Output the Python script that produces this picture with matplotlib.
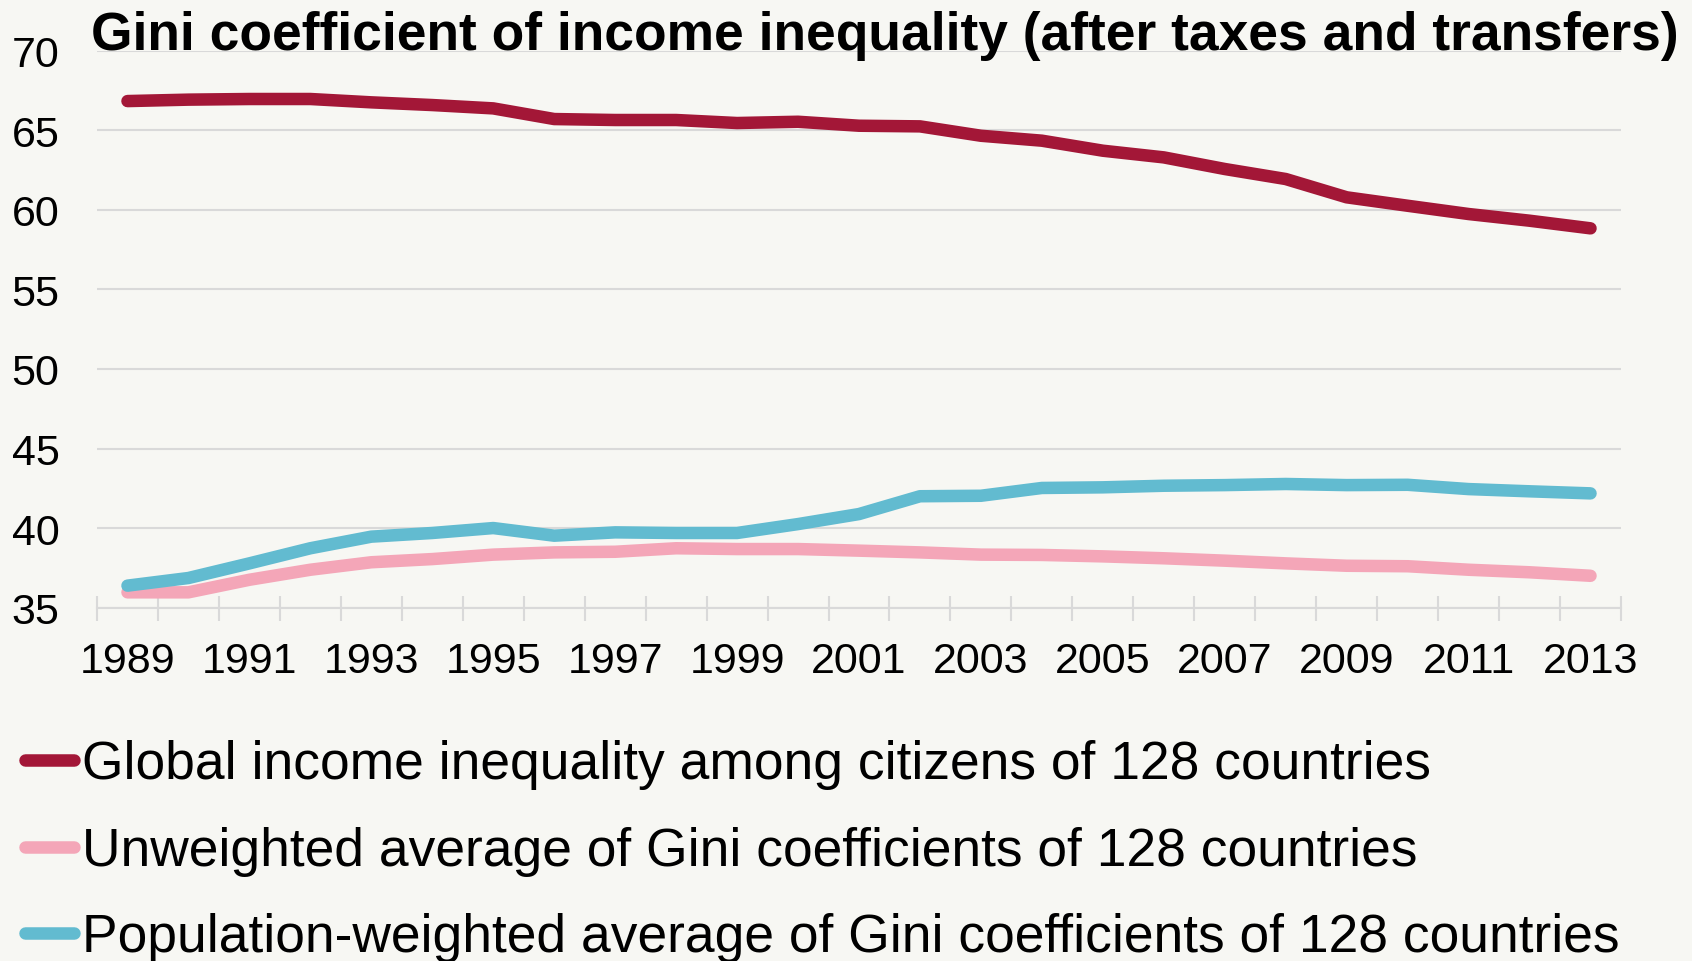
import numpy as np
import matplotlib
matplotlib.use("Agg")
import matplotlib.pyplot as plt
from matplotlib.lines import Line2D

plt.rcParams['font.family'] = ['Liberation Sans', 'DejaVu Sans']

# ---- data ----
years = list(range(1989, 2014))
global_gini = [66.84, 66.93, 66.97, 66.97, 66.76, 66.59, 66.38, 65.71, 65.65, 65.65, 65.46,
               65.54, 65.29, 65.25, 64.66, 64.35, 63.72, 63.3, 62.57, 61.94, 60.79, 60.26,
               59.74, 59.32, 58.84]
unweighted_gini = [35.96, 35.96, 36.75, 37.38, 37.85, 38.05, 38.33, 38.47, 38.51, 38.73, 38.68,
                   38.68, 38.58, 38.47, 38.33, 38.31, 38.22, 38.1, 37.95, 37.78, 37.63, 37.6,
                   37.38, 37.22, 37.0]
weighted_gini = [36.38, 36.86, 37.78, 38.73, 39.46, 39.69, 40.0, 39.52, 39.73, 39.69, 39.69,
                 40.25, 40.88, 42.0, 42.03, 42.52, 42.56, 42.66, 42.7, 42.77, 42.7, 42.72,
                 42.45, 42.31, 42.18]
series_labels = ["Global income inequality among citizens of 128 countries",
                 "Unweighted average of Gini coefficients of 128 countries",
                 "Population-weighted average of Gini coefficients of 128 countries"]
title = "Gini coefficient of income inequality (after taxes and transfers)"

colors = ["#A31737", "#F4A6B8", "#62BBD0"]
bg = "#F7F7F3"
grid_c = "#D9D9D9"

W, H = 1692, 962
fig = plt.figure(figsize=(W / 100, H / 100), dpi=100, facecolor=bg)
ax = fig.add_axes([97 / W, 1 - 608.6 / H, (1621 - 97) / W, (608.6 - 51.8) / H])
ax.set_facecolor(bg)

n = len(years)
xpos = np.arange(n) + 0.5
for vals, col in zip([global_gini, unweighted_gini, weighted_gini], colors):
    ax.plot(xpos, vals, color=col, lw=9, solid_capstyle='round',
            solid_joinstyle='round', zorder=3)

ax.set_xlim(0, n)
ax.set_ylim(35, 70)
ax.set_yticks(np.arange(35, 71, 5))
ax.yaxis.grid(True, color=grid_c, lw=1.5)
ax.set_axisbelow(True)
ax.tick_params(axis='y', length=0, pad=27, labelsize=31, colors='black')

ax.set_xticks(xpos[::2])
ax.set_xticklabels([str(y) for y in years[::2]])
ax.tick_params(axis='x', which='major', length=0, pad=24, labelsize=31)
ax.set_xticks(np.arange(0, n + 1), minor=True)
ax.tick_params(axis='x', which='minor', direction='inout', length=18, width=1.5,
               color=grid_c)

for s in ['left', 'right', 'top']:
    ax.spines[s].set_visible(False)
ax.spines['bottom'].set_color(grid_c)
ax.spines['bottom'].set_linewidth(1.5)

fig.text(885 / W, 1 - 50 / H, title, ha='center', va='baseline',
         fontsize=38.4, fontweight='bold')

line_y0 = 761
text_y0 = 779.5
step = 86.5
for i, (lab, col) in enumerate(zip(series_labels, colors)):
    yl = 1 - (line_y0 + i * step) / H
    fig.add_artist(Line2D([25 / W, 74 / W], [yl, yl], transform=fig.transFigure,
                          color=col, lw=9, solid_capstyle='round'))
    fig.text(82 / W, 1 - (text_y0 + i * step) / H, lab, ha='left', va='baseline',
             fontsize=38.4)

fig.savefig("out.png", dpi=100, facecolor=bg)
